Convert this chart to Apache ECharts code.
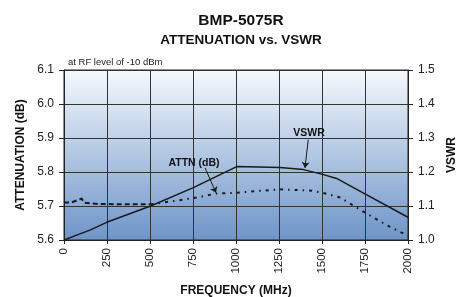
<!DOCTYPE html>
<html>
<head>
<meta charset="utf-8">
<script src="https://cdn.jsdelivr.net/npm/echarts@6/dist/echarts.min.js"></script>
<style>
  html, body { margin: 0; padding: 0; background: #fff; }
  #chart { width: 464px; height: 297px; }
</style>
</head>
<body>
<div id="chart"></div>
<script>
// values
const vswrFreq = [0, 93, 151, 248, 504, 752, 1004, 1256, 1392, 1504, 1585, 1752, 2000];
const vswrVals = [1.0, 1.018, 1.029, 1.052, 1.10, 1.154, 1.216, 1.213, 1.207, 1.193, 1.181, 1.135, 1.067];

// attenuation, low band (long dashes) and upper band (short dash/dot)
const attnFreqLow = [0, 40, 103, 115, 200, 350, 504];
const attnValsLow = [5.71, 5.71, 5.722, 5.71, 5.706, 5.705, 5.705];
const attnFreqHigh = [504, 752, 888, 1004, 1256, 1440, 1504, 1605, 1752, 1876, 2000];
const attnValsHigh = [5.705, 5.723, 5.737, 5.739, 5.749, 5.745, 5.739, 5.725, 5.68, 5.644, 5.612];

const xTicks = [0, 250, 500, 750, 1000, 1250, 1500, 1750, 2000];

const chart = echarts.init(document.getElementById('chart'));
const font = 'Liberation Sans, Arial, sans-serif';

const arrowStyle = { color: '#1a1a1a', width: 1, type: 'solid' };
const noteLabel = txt => ({
    show: true, formatter: txt, fontFamily: font, fontSize: 10.5,
    fontWeight: 'bold', color: '#111', position: 'inside'
});

const option = {
    animation: false,
    title: [
        { text: 'BMP-5075R', left: 236, top: 8, textAlign: 'center',
          textStyle: { fontFamily: font, fontSize: 15.5, fontWeight: 'bold', color: '#111' } },
        { text: 'ATTENUATION vs. VSWR', left: 236, top: 28, textAlign: 'center',
          textStyle: { fontFamily: font, fontSize: 13.5, fontWeight: 'bold', color: '#111' } },
        { text: 'at RF level of -10 dBm', left: 63, top: 52,
          textStyle: { fontFamily: font, fontSize: 9.5, fontWeight: 'normal', color: '#222' } }
    ],
    grid: {
        left: 64, right: 56, top: 70, bottom: 57,
        outerBoundsMode: 'none',
        containLabel: false,
        show: true,
        borderColor: '#222',
        borderWidth: 1,
        backgroundColor: {
            type: 'linear', x: 0, y: 0, x2: 0, y2: 1,
            colorStops: [
                { offset: 0, color: '#f6f9fd' },
                { offset: 1, color: '#6e94c8' }
            ]
        }
    },
    xAxis: {
        type: 'value',
        min: 0, max: 2000, interval: 250,
        name: 'FREQUENCY (MHz)',
        nameLocation: 'middle',
        nameGap: 45,
        nameTextStyle: { fontFamily: font, fontSize: 12, fontWeight: 'bold', color: '#111' },
        axisLine: { show: true, lineStyle: { color: '#222' } },
        axisTick: { show: true, inside: false, length: 4, lineStyle: { color: '#222' } },
        axisLabel: {
            rotate: 90, fontFamily: font, fontSize: 11.5, color: '#222', margin: 8,
            showMinLabel: true, showMaxLabel: true, hideOverlap: false,
            formatter: v => xTicks.includes(v) ? String(v) : ''
        },
        splitLine: { show: true, lineStyle: { color: '#333', width: 1 } }
    },
    yAxis: [
        {
            type: 'value',
            min: 5.6, max: 6.1, interval: 0.1,
            name: 'ATTENUATION (dB)',
            nameLocation: 'middle',
            nameGap: 36,
            nameTextStyle: { fontFamily: font, fontSize: 12, fontWeight: 'bold', color: '#111' },
            axisLine: { show: true, lineStyle: { color: '#222' } },
            axisTick: { show: true, length: 5, lineStyle: { color: '#222' } },
            axisLabel: { fontFamily: font, fontSize: 12, color: '#222', margin: 10,
                         formatter: v => v.toFixed(1) },
            splitLine: { show: true, lineStyle: { color: '#333', width: 1 } }
        },
        {
            type: 'value',
            min: 1.0, max: 1.5, interval: 0.1,
            position: 'right',
            name: 'VSWR',
            nameLocation: 'middle',
            nameGap: 34,
            nameRotate: 90,
            nameTextStyle: { fontFamily: font, fontSize: 12, fontWeight: 'bold', color: '#111' },
            axisLine: { show: true, lineStyle: { color: '#222' } },
            axisTick: { show: true, length: 5, lineStyle: { color: '#222' } },
            axisLabel: { fontFamily: font, fontSize: 12, color: '#222', margin: 10,
                         formatter: v => v.toFixed(1) },
            splitLine: { show: false }
        }
    ],
    series: [
        {
            name: 'VSWR',
            type: 'line',
            yAxisIndex: 1,
            data: vswrFreq.map((f, i) => [f, vswrVals[i]]),
            showSymbol: false,
            lineStyle: { color: '#1a1a1a', width: 1.5 },
            markLine: {
                silent: true,
                symbol: ['none', 'arrow'],
                symbolSize: 6,
                lineStyle: arrowStyle,
                label: { show: false },
                data: [[{ coord: [1420, 1.295] }, { coord: [1401, 1.212] }]]
            },
            markPoint: {
                silent: true,
                symbol: 'circle', symbolSize: 0,
                label: noteLabel('VSWR'),
                data: [{ coord: [1425, 1.314] }]
            }
        },
        {
            name: 'ATTN',
            type: 'line',
            yAxisIndex: 0,
            data: attnFreqLow.map((f, i) => [f, attnValsLow[i]]),
            showSymbol: false,
            lineStyle: { color: '#1a1a1a', width: 2, type: [5, 3] }
        },
        {
            name: 'ATTN',
            type: 'line',
            yAxisIndex: 0,
            data: attnFreqHigh.map((f, i) => [f, attnValsHigh[i]]),
            showSymbol: false,
            lineStyle: { color: '#1a1a1a', width: 2, type: [3, 5, 1.5, 5] },
            markLine: {
                silent: true,
                symbol: ['none', 'arrow'],
                symbolSize: 6,
                lineStyle: arrowStyle,
                label: { show: false },
                data: [[{ coord: [820, 5.812] }, { coord: [884, 5.739] }]]
            },
            markPoint: {
                silent: true,
                symbol: 'circle', symbolSize: 0,
                label: noteLabel('ATTN (dB)'),
                data: [{ coord: [756, 5.826] }]
            }
        }
    ]
};

chart.setOption(option);
</script>
</body>
</html>
